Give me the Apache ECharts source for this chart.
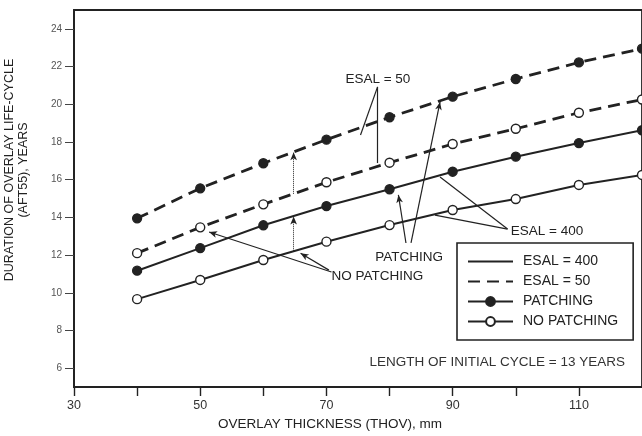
<!DOCTYPE html>
<html>
<head>
<meta charset="utf-8">
<script src="https://cdn.jsdelivr.net/npm/echarts@6/dist/echarts.min.js"></script>
<style>
html,body{margin:0;padding:0;background:#fff;}
#main{width:642px;height:436px;}
</style>
</head>
<body>
<div id="main"></div>
<script>
// overlay thickness, mm
var thickness = [40, 50, 60, 70, 80, 90, 100, 110, 120];
// duration of overlay life-cycle, years
var esal50Patching   = [13.95, 15.54, 16.87, 18.12, 19.31, 20.40, 21.34, 22.22, 22.95];
var esal50NoPatching = [12.10, 13.47, 14.69, 15.86, 16.90, 17.89, 18.70, 19.55, 20.25];
var esal400Patching  = [11.17, 12.37, 13.58, 14.60, 15.49, 16.42, 17.22, 17.94, 18.62];
var esal400NoPatching= [9.66, 10.68, 11.74, 12.71, 13.59, 14.39, 14.97, 15.72, 16.25];
var xTicks = [30, 40, 50, 60, 70, 80, 90, 100, 110];
var xLabels = [30, 50, 70, 90, 110];
var yTicks = [6, 8, 10, 12, 14, 16, 18, 20, 22, 24];

var ink = '#222';
var font = '"Liberation Sans", Arial, sans-serif';

function pairs(ys){
	var out = [];
	for (var i = 0; i < ys.length; i++) out.push([thickness[i], ys[i]]);
	return out;
}

// annotation arrows in data units: [from, to, headAtEnd, dotted]
var arrows = [
	[[78.1, 20.92], [75.4, 18.37], false, false],
	[[78.1, 20.92], [78.1, 16.88], false, false],
	[[82.6, 12.64], [81.4, 15.19], true, false],
	[[83.4, 12.64], [88.0, 20.12], true, false],
	[[70.8, 11.10], [51.4, 13.22], true, false],
	[[70.4, 11.20], [65.9, 12.10], true, false],
	[[98.7, 13.38], [88.0, 16.14], false, false],
	[[98.7, 13.38], [87.2, 14.12], false, false],
	[[64.8, 15.25], [64.8, 17.45], true, true],
	[[64.8, 12.20], [64.8, 14.05], true, true]
];

var markData = arrows.map(function(a){
	return [
		{coord: a[0], symbol: 'none'},
		{coord: a[1], symbol: a[2] ? 'arrow' : 'none', symbolSize: [5, 8],
		 lineStyle: {type: a[3] ? 'dotted' : 'solid', width: a[3] ? 1 : 1.2}}
	];
});

var solid = {color: ink, width: 2, type: 'solid'};
var dashed = {color: ink, width: 2.8, type: [12, 7]};
var filled = {color: ink, borderColor: ink, borderWidth: 1.3};
var open = {color: '#fff', borderColor: ink, borderWidth: 1.4};
var hidden = {color: 'rgba(0,0,0,0)', borderColor: 'rgba(0,0,0,0)', borderWidth: 0};

var chart = echarts.init(document.getElementById('main'));
var option = {
	animation: false,
	backgroundColor: '#fff',
	grid: {left: 74, top: 10, right: -3, bottom: 49, show: true, borderColor: ink, borderWidth: 1.8},
	legend: {
		orient: 'vertical', left: 457, top: 243,
		data: [
			{name: 'ESAL = 400', itemStyle: hidden},
			{name: 'ESAL = 50', itemStyle: hidden},
			{name: 'PATCHING'},
			{name: 'NO PATCHING'}
		],
		itemWidth: 45, itemHeight: 11, itemGap: 5,
		padding: [11, 15, 11, 10],
		borderColor: ink, borderWidth: 1.6,
		textStyle: {fontFamily: font, fontSize: 14, lineHeight: 15, color: ink, padding: [0, 0, 0, 5]}
	},
	xAxis: {
		type: 'value', min: 30, max: 120,
		axisLine: {lineStyle: {color: ink, width: 1.8}},
		axisTick: {length: 9, lineStyle: {color: ink, width: 1.4}, customValues: xTicks},
		axisLabel: {customValues: xLabels, color: '#333', fontFamily: font, fontSize: 12.5, margin: 12},
		splitLine: {show: false}
	},
	yAxis: {
		type: 'value', min: 5, max: 25,
		axisLine: {show: true, lineStyle: {color: ink, width: 1.8}},
		axisTick: {show: true, length: 9, lineStyle: {color: '#444', width: 1}, customValues: yTicks},
		axisLabel: {customValues: yTicks, color: '#555', fontFamily: font, fontSize: 10, margin: 12},
		splitLine: {show: false}
	},
	series: [
		{type: 'line', name: 'esal50p', data: pairs(esal50Patching), lineStyle: dashed,
		 symbol: 'circle', symbolSize: 9, itemStyle: filled},
		{type: 'line', name: 'esal50n', data: pairs(esal50NoPatching), lineStyle: dashed,
		 symbol: 'circle', symbolSize: 9, itemStyle: open},
		{type: 'line', name: 'esal400p', data: pairs(esal400Patching), lineStyle: solid,
		 symbol: 'circle', symbolSize: 9, itemStyle: filled},
		{type: 'line', name: 'esal400n', data: pairs(esal400NoPatching), lineStyle: solid,
		 symbol: 'circle', symbolSize: 9, itemStyle: open,
		 markLine: {silent: true, symbol: 'none', label: {show: false},
			lineStyle: {color: ink, width: 1.2, type: 'solid'}, data: markData}},
		// legend-only entries
		{type: 'line', name: 'ESAL = 400', data: [], symbol: 'none', lineStyle: solid, itemStyle: {color: ink}},
		{type: 'line', name: 'ESAL = 50', data: [], symbol: 'none', lineStyle: dashed, itemStyle: {color: ink}},
		{type: 'line', name: 'PATCHING', data: [], symbol: 'circle', lineStyle: solid, itemStyle: filled},
		{type: 'line', name: 'NO PATCHING', data: [], symbol: 'circle', lineStyle: solid, itemStyle: open}
	]
};
chart.setOption(option);

function px(x, y){ return chart.convertToPixel({gridIndex: 0}, [x, y]); }

var tStyle = {fontFamily: font, fontSize: 13.5, fill: ink};
var p50 = px(73.0, 21.34), pPat = px(83.1, 11.9), pNo = px(70.8, 10.89), p400 = px(99.2, 13.28);
chart.setOption({
	graphic: [
		{type: 'text', x: p50[0], y: p50[1], style: Object.assign({text: 'ESAL = 50', verticalAlign: 'middle'}, tStyle)},
		{type: 'text', x: pPat[0], y: pPat[1], style: Object.assign({text: 'PATCHING', align: 'center', verticalAlign: 'middle'}, tStyle)},
		{type: 'text', x: pNo[0], y: pNo[1], style: Object.assign({text: 'NO PATCHING', align: 'left', verticalAlign: 'middle'}, tStyle)},
		{type: 'text', x: p400[0], y: p400[1], style: Object.assign({text: 'ESAL = 400', align: 'left', verticalAlign: 'middle'}, tStyle)},
		{type: 'text', x: 625, y: 362, style: {text: 'LENGTH OF INITIAL CYCLE = 13 YEARS', align: 'right', verticalAlign: 'middle',
			fontFamily: font, fontSize: 13.5, fill: '#333'}},
		{type: 'text', x: 330, y: 424, style: {text: 'OVERLAY THICKNESS (THOV), mm', align: 'center', verticalAlign: 'middle',
			fontFamily: font, fontSize: 13.5, fill: ink}},
		{type: 'text', x: 17, y: 170, rotation: Math.PI / 2, style: {text: 'DURATION OF OVERLAY LIFE-CYCLE\n(AFT55), YEARS',
			align: 'center', verticalAlign: 'middle', lineHeight: 14, fontFamily: font, fontSize: 12.5, fill: ink}}
	]
});
</script>
</body>
</html>
